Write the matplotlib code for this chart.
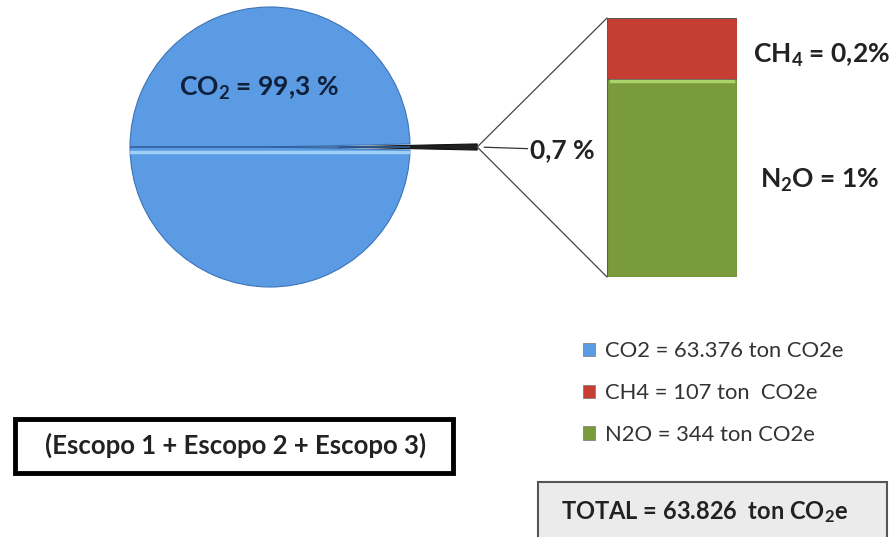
import matplotlib
matplotlib.use("Agg")
import matplotlib.pyplot as plt
from matplotlib.patches import Patch, ConnectionPatch, FancyBboxPatch

plt.rcParams["font.family"] = ["Lato", "DejaVu Sans"]
plt.rcParams["mathtext.fontset"] = "custom"
plt.rcParams["mathtext.rm"] = "Lato"
plt.rcParams["mathtext.bf"] = "Lato:bold"
plt.rcParams["mathtext.default"] = "bf"

# data
pie_labels = ["Outros", "CO2"]
pie_share = [0.7, 99.3]                      # % do total
bar_gases = ["N2O", "CH4"]                   # de baixo para cima
bar_values = [344, 107]                      # ton CO2e
legend_labels = ["CO2 = 63.376 ton CO2e", "CH4 = 107 ton  CO2e", "N2O = 344 ton CO2e"]
bar_labels = {"CH4": "CH$_4$ = 0,2%", "N2O": "N$_2$O = 1%"}
total_text = "TOTAL = 63.826  ton CO$_2$e"
scope_text = "(Escopo 1 + Escopo 2 + Escopo 3)"

BLUE = "#5b9be4"
RED = "#c63d33"
GREEN = "#7a9b3c"
DARK = "#1f1f1f"
TXT = "#222222"

W, H = 894, 537
fig = plt.figure(figsize=(W / 100, H / 100), dpi=100)


def rect(x0, y0, x1, y1):
    # pixel box (top-left origin) -> figure fraction
    return [x0 / W, 1 - y1 / H, (x1 - x0) / W, (y1 - y0) / H]


# pie
ax_pie = fig.add_axes(rect(130, 7, 410, 287))
wedges, _ = ax_pie.pie(pie_share, colors=[DARK, BLUE], explode=[0.48, 0],
                       startangle=-pie_share[0] * 3.6 / 2,
                       wedgeprops=dict(edgecolor="#3d74b8", linewidth=0.8))
wedges[0].set_edgecolor("#111111")
for w in wedges:
    w.set_clip_on(False)
ax_pie.plot([-1, 1], [0, 0], color="#2f5f9a", lw=1.2)
ax_pie.plot([-0.99, 0.99], [-0.035, -0.035], color="#9fd0f7", lw=2.5)
ax_pie.set_xlim(-1, 1)
ax_pie.set_ylim(-1, 1)
ax_pie.set_aspect("auto")
ax_pie.axis("off")
ax_pie.text(-0.65, 0.42, "CO$_2$ = 99,3 %", fontsize=19, fontweight="bold",
            color="#10203a", ha="left", va="center")

# stacked bar
ax_bar = fig.add_axes(rect(607, 18, 737, 277))
bottom = 0
mids = {}
for gas, val, col in zip(bar_gases, bar_values, [GREEN, RED]):
    ax_bar.bar(0, val, bottom=bottom, width=1, color=col, edgecolor="#5a5a5a", linewidth=0.8)
    mids[gas] = bottom + val / 2
    bottom += val
ax_bar.plot([-0.47, 0.47], [bar_values[0] - 2, bar_values[0] - 2], color="#a9d36a", lw=2.5)
ax_bar.set_xlim(-0.5, 0.5)
ax_bar.set_ylim(0, sum(bar_values))
ax_bar.axis("off")

ax_bar.annotate(bar_labels["CH4"], xy=(0.5, mids["CH4"] - 12), xytext=(11.5, 0),
                textcoords="offset points", fontsize=19, fontweight="bold",
                color=TXT, ha="left", va="center")
ax_bar.annotate(bar_labels["N2O"], xy=(0.5, mids["N2O"] - 3), xytext=(16.5, 0),
                textcoords="offset points", fontsize=19, fontweight="bold",
                color=TXT, ha="left", va="center")

# connectors from pie slice to bar
tip = (1 + 0.48, 0)
for yb in (sum(bar_values), 0):
    con = ConnectionPatch(xyA=tip, coordsA=ax_pie.transData,
                          xyB=(-0.5, yb), coordsB=ax_bar.transData,
                          color="#444444", lw=0.9)
    fig.add_artist(con)

ax_pie.annotate("0,7 %", xy=tip, xytext=(1.86, -0.02), textcoords="data",
                fontsize=19, fontweight="bold", color=TXT, ha="left", va="center",
                annotation_clip=False,
                arrowprops=dict(arrowstyle="-", color="#333333", lw=0.9,
                                shrinkA=0, shrinkB=5))

# legend
handles = [Patch(facecolor=c, edgecolor="#777777", linewidth=0.5) for c in (BLUE, RED, GREEN)]
fig.legend(handles, legend_labels, loc="upper left", bbox_to_anchor=(572 / W, 1 - 330 / H),
           frameon=False, fontsize=15.8, labelcolor="#333333", handlelength=0.55,
           handleheight=0.55, handletextpad=0.45, labelspacing=1.0, borderpad=0)

# boxes
fig.add_artist(FancyBboxPatch((15 / W, 1 - 473 / H), 438 / W, 54 / H, boxstyle="square,pad=0",
                              transform=fig.transFigure, facecolor="white",
                              edgecolor="black", linewidth=3.5))
fig.text(236 / W, 1 - 445 / H, scope_text, fontsize=18.5, fontweight="bold",
         color=TXT, ha="center", va="center")

fig.add_artist(FancyBboxPatch((538 / W, -0.05), 349 / W, 0.05 + 55 / H, boxstyle="square,pad=0",
                              transform=fig.transFigure, facecolor="#ebebeb",
                              edgecolor="#555555", linewidth=1.5))
fig.text(705 / W, 1 - 512 / H, total_text, fontsize=17, fontweight="bold",
         color=TXT, ha="center", va="center")

fig.savefig("out.png", dpi=100)
